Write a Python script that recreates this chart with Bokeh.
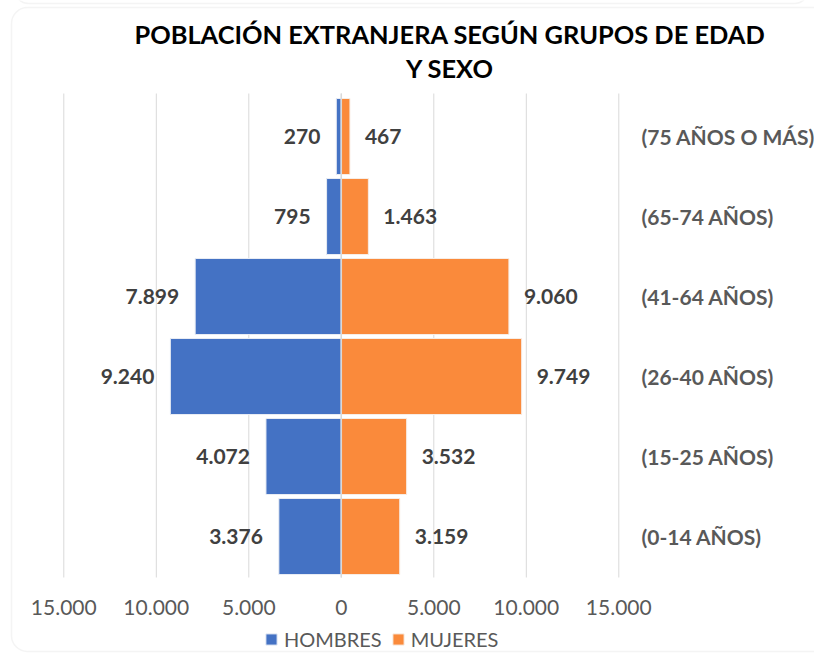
from bokeh.plotting import figure
from bokeh.models import Range1d, Legend, LegendItem, ColumnDataSource, BoxAnnotation
from bokeh.core.properties import value
from bokeh.embed import file_html
from bokeh.resources import INLINE

# ---- data ----
groups = ["(0-14 AÑOS)", "(15-25 AÑOS)", "(26-40 AÑOS)", "(41-64 AÑOS)", "(65-74 AÑOS)", "(75 AÑOS O MÁS)"]
hombres = [3376, 4072, 9240, 7899, 795, 270]
mujeres = [3159, 3532, 9749, 9060, 1463, 467]
ticks = [-15000, -10000, -5000, 0, 5000, 10000, 15000]
title_lines = ["POBLACIÓN EXTRANJERA SEGÚN GRUPOS DE EDAD", "Y SEXO"]
series_names = ["HOMBRES", "MUJERES"]


def fmt(v):
    return f"{abs(int(v)):,}".replace(",", ".")


# ---- layout helpers (pixel -> data) ----
W, H = 814, 654
X0_PX = 63.3            # pixel of the first tick
PX_PER = 18.5 / 1000.0  # pixels per unit along x
ROW_PX = 80.0           # pixels per category row
ROW0_PX = 536.0         # pixel centre of the first row

x_start = ticks[0] - X0_PX / PX_PER
x_end = x_start + W / PX_PER


def xd(px):
    return x_start + px / PX_PER


def yd(py):
    return (ROW0_PX - py) / ROW_PX


y_start, y_end = yd(H), yd(0)
grid_bottom, grid_top = yd(577), yd(93)

rows = list(range(len(groups)))
src = ColumnDataSource(dict(
    y=rows,
    h=[-v for v in hombres],
    m=mujeres,
    hl=[fmt(v) for v in hombres],
    ml=[fmt(v) for v in mujeres],
    cat=groups,
))

p = figure(width=W, height=H,
           x_range=Range1d(x_start, x_end), y_range=Range1d(y_start, y_end),
           output_backend="svg", toolbar_location=None,
           y_axis_location=None, x_axis_location=None,
           min_border_left=0, min_border_right=0, min_border_top=0, min_border_bottom=0)
p.outline_line_color = None
p.xgrid.visible = False
p.ygrid.visible = False
p.background_fill_color = "white"
p.border_fill_color = "white"

GRID = "#D9D9D9"
FONT = value("Lato")

# chart borders (rounded frames)
p.add_layout(BoxAnnotation(left=xd(14), right=xd(808), top=yd(-40), bottom=yd(3),
                           fill_alpha=0, line_color="#DCDCDC", line_width=1.5,
                           border_radius=14))
p.add_layout(BoxAnnotation(left=xd(11), right=xd(840), top=yd(7), bottom=yd(651),
                           fill_alpha=0, line_color="#D9D9D9", line_width=1.5,
                           border_radius=16))

# gridlines
p.segment(x0=ticks, y0=[grid_bottom] * len(ticks), x1=ticks, y1=[grid_top] * len(ticks),
          line_color=GRID, line_width=1)

r_h = p.hbar(y="y", left=0, right="h", height=0.95, fill_color="#4472C4",
             line_color="#E8ECF4", line_width=1, source=src)
r_m = p.hbar(y="y", left=0, right="m", height=0.95, fill_color="#FA8A3B",
             line_color="#F7EDE6", line_width=1, source=src)

# vertical category axis line at 0
p.segment(x0=[0], y0=[grid_bottom], x1=[0], y1=[grid_top], line_color=GRID, line_width=1.5)

# data labels
p.text(x="h", y="y", text="hl", source=src, text_align="right", text_baseline="middle",
       x_offset=-16, text_font=FONT, text_font_style="bold", text_font_size="21px",
       text_color="#404040")
p.text(x="m", y="y", text="ml", source=src, text_align="left", text_baseline="middle",
       x_offset=15, text_font=FONT, text_font_style="bold", text_font_size="21px",
       text_color="#404040")

# category labels
p.text(x=xd(641), y="y", text="cat", source=src, text_align="left", text_baseline="middle",
       text_font=FONT, text_font_style="bold", text_font_size="21px", text_color="#595959")

# value axis tick labels
p.text(x=ticks, y=[yd(607)] * len(ticks), text=[fmt(t) for t in ticks],
       text_align="center", text_baseline="middle", text_font=FONT,
       text_font_size="21px", text_color="#595959")

# title
p.text(x=[xd(449.5)] * 2, y=[yd(33), yd(67)], text=title_lines, text_align="center",
       text_baseline="middle", text_font=FONT, text_font_style="bold",
       text_font_size="25.4px", text_color="#000000")

legend = Legend(items=[LegendItem(label=series_names[0], renderers=[r_h]),
                       LegendItem(label=series_names[1], renderers=[r_m])],
                orientation="horizontal", location=(264, 3),
                glyph_width=14, glyph_height=14, label_standoff=6, spacing=9,
                padding=0, margin=0, border_line_color=None, background_fill_alpha=0,
                label_text_font="Lato", label_text_font_size="20px",
                label_text_color="#595959")
p.add_layout(legend, "center")

open("out.html", "w").write(file_html(p, INLINE))
